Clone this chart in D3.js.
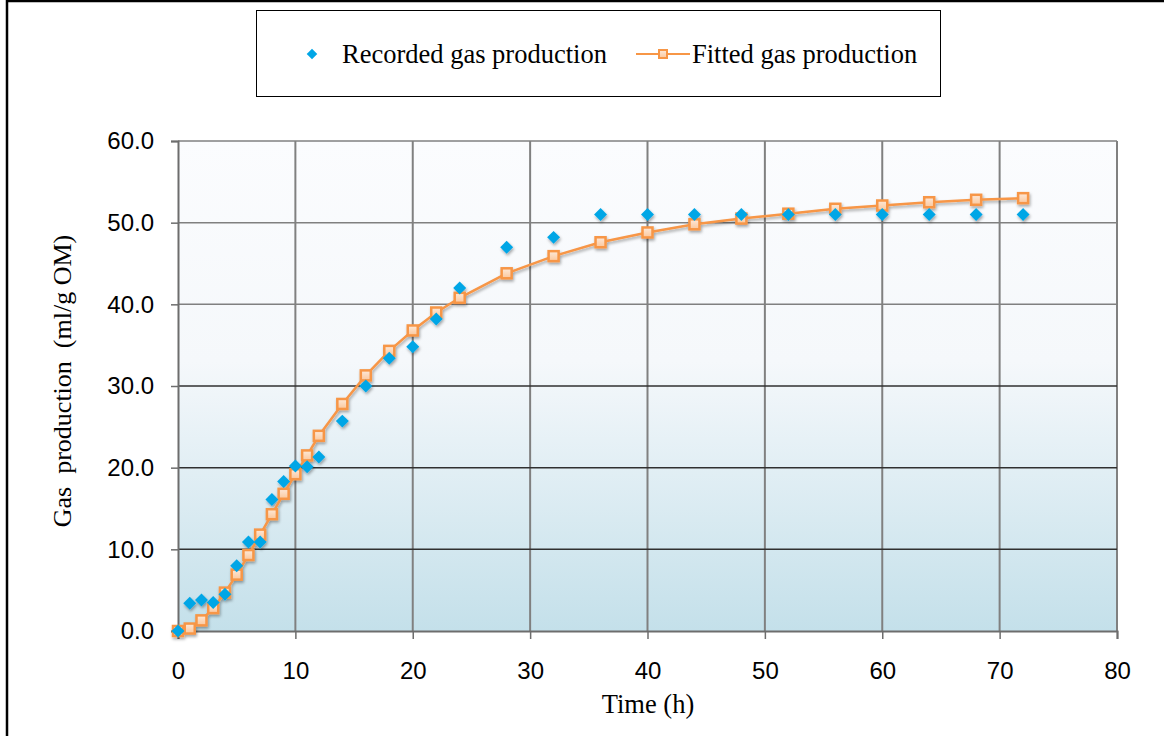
<!DOCTYPE html>
<html>
<head>
<meta charset="utf-8">
<script src="https://cdn.jsdelivr.net/npm/d3@7"></script>
<style>
  body { margin: 0; background: #fff; }
  svg { display: block; }
</style>
</head>
<body>
<div id="chart"></div>
<script>
const hours = [0, 1, 2, 3, 4, 5, 6, 7, 8, 9, 10, 11, 12, 14, 16, 18, 20, 22, 24, 28, 32, 36, 40, 44, 48, 52, 56, 60, 64, 68, 72];
const recorded = [0, 3.4, 3.8, 3.5, 4.5, 8.0, 10.9, 10.9, 16.1, 18.3, 20.2, 20.1, 21.3, 25.7, 30.0, 33.4, 34.8, 38.2, 42.0, 47.0, 48.2, 51.0, 51.0, 51.0, 51.0, 51.0, 51.0, 51.0, 51.0, 51.0, 51.0];
const fitted = [0, 0.3, 1.3, 2.8, 4.7, 6.9, 9.3, 11.8, 14.3, 16.8, 19.2, 21.5, 23.9, 27.8, 31.3, 34.3, 36.8, 39.0, 40.8, 43.8, 45.9, 47.6, 48.8, 49.8, 50.5, 51.1, 51.7, 52.1, 52.5, 52.8, 53.0];
const xTicks = [0, 10, 20, 30, 40, 50, 60, 70, 80];
const yTicks = [0, 10, 20, 30, 40, 50, 60];
const seriesNames = ["Recorded gas production", "Fitted gas production"];

const W = 1164, H = 736;
const margin = { top: 141, left: 178, right: 47, bottom: 105 };
const width = W - margin.left - margin.right;
const height = H - margin.top - margin.bottom;

const blue = "#00a6e6";
const orange = "#f79646";
const serif = "'Liberation Serif', 'Times New Roman', serif";

const svg = d3.select("#chart").append("svg").attr("width", W).attr("height", H);

const defs = svg.append("defs");
const grad = defs.append("linearGradient")
  .attr("id", "bg").attr("x1", 0).attr("y1", 0).attr("x2", 0).attr("y2", 1);
grad.append("stop").attr("offset", "0%").attr("stop-color", "#fbfcfe");
grad.append("stop").attr("offset", "45%").attr("stop-color", "#f5f8fb");
grad.append("stop").attr("offset", "100%").attr("stop-color", "#c4e0ea");

const sqGrad = defs.append("linearGradient")
  .attr("id", "sq").attr("x1", 0).attr("y1", 0).attr("x2", 0).attr("y2", 1);
sqGrad.append("stop").attr("offset", "0%").attr("stop-color", "#fde9d9");
sqGrad.append("stop").attr("offset", "100%").attr("stop-color", "#fbc79c");

const shadow = defs.append("filter").attr("id", "shadow")
  .attr("x", "-50%").attr("y", "-50%").attr("width", "200%").attr("height", "200%");
shadow.append("feDropShadow").attr("dx", 1).attr("dy", 2).attr("stdDeviation", 1.6)
  .attr("flood-color", "#000").attr("flood-opacity", 0.35);

// outer frame
svg.append("rect").attr("x", 7).attr("y", 1).attr("width", W + 20).attr("height", H + 20)
  .attr("fill", "none").attr("stroke", "#000").attr("stroke-width", 2.5);

const g = svg.append("g").attr("transform", `translate(${margin.left},${margin.top})`);

const x = d3.scaleLinear().domain([0, 80]).range([0, width]);
const y = d3.scaleLinear().domain([0, 60]).range([height, 0]);

g.append("rect").attr("width", width).attr("height", height).attr("fill", "url(#bg)");

// grid
g.selectAll(".vgrid").data(xTicks.slice(1)).enter().append("line")
  .attr("x1", d => x(d)).attr("x2", d => x(d))
  .attr("y1", 0).attr("y2", height)
  .attr("stroke", "#808080").attr("stroke-width", 2);
g.selectAll(".hgrid").data(yTicks.slice(1)).enter().append("line")
  .attr("x1", 0).attr("x2", width)
  .attr("y1", d => y(d)).attr("y2", d => y(d))
  .attr("stroke", d => d <= 30 ? "#303030" : "#808080").attr("stroke-width", 1.5);

const xAxis = d3.axisBottom(x).tickValues(xTicks).tickSize(8).tickPadding(23).tickFormat(d3.format("d"));
const yAxis = d3.axisLeft(y).tickValues(yTicks).tickSize(7).tickPadding(17).tickFormat(d3.format(".1f"));

const gx = g.append("g").attr("transform", `translate(0,${height})`).call(xAxis);
const gy = g.append("g").call(yAxis);
[gx, gy].forEach(a => {
  a.select(".domain").attr("stroke", "#6d6d6d").attr("stroke-width", 2);
  a.selectAll(".tick line").attr("stroke", "#6d6d6d").attr("stroke-width", 1.5);
  a.selectAll("text").attr("fill", "#000")
    .style("font-family", "'Liberation Sans', Arial, sans-serif").style("font-size", "24px");
});

// axis titles
svg.append("text")
  .attr("transform", `translate(71,${margin.top + height / 2 - 5}) rotate(-90)`)
  .attr("text-anchor", "middle")
  .style("font-family", serif)
  .style("font-size", "26px").style("white-space", "pre")
  .text("Gas  production  (ml/g OM)");
svg.append("text")
  .attr("x", 648).attr("y", 713)
  .attr("text-anchor", "middle")
  .style("font-family", serif)
  .style("font-size", "26.5px")
  .text("Time (h)");

// fitted line + squares, recorded diamonds on top
const pts = hours.map((h, i) => ({ h, r: recorded[i], f: fitted[i] }));
const line = d3.line().x(d => x(d.h)).y(d => y(d.f));
const plot = g.append("g").attr("filter", "url(#shadow)");
plot.append("path").datum(pts).attr("d", line)
  .attr("fill", "none").attr("stroke", orange).attr("stroke-width", 2.5);

plot.selectAll(".fit").data(pts).enter().append("rect")
  .attr("x", d => x(d.h) - 5).attr("y", d => y(d.f) - 5)
  .attr("width", 10).attr("height", 10)
  .attr("fill", "url(#sq)").attr("stroke", orange).attr("stroke-width", 2.5);

const diamond = d3.symbol().type(d3.symbolSquare).size(84);
plot.selectAll(".rec").data(pts).enter().append("path")
  .attr("d", diamond)
  .attr("transform", d => `translate(${x(d.h)},${y(d.r)}) rotate(45)`)
  .attr("fill", blue);

// legend
const lg = svg.append("g");
lg.append("rect").attr("x", 256.5).attr("y", 10.5).attr("width", 684).attr("height", 86)
  .attr("fill", "#fff").attr("stroke", "#000").attr("stroke-width", 1);
lg.append("path").attr("d", d3.symbol().type(d3.symbolSquare).size(56))
  .attr("transform", "translate(312,54) rotate(45)").attr("fill", blue);
lg.append("line").attr("x1", 636).attr("x2", 690).attr("y1", 54).attr("y2", 54)
  .attr("stroke", orange).attr("stroke-width", 2);
lg.append("rect").attr("x", 659).attr("y", 50).attr("width", 8).attr("height", 8)
  .attr("fill", "url(#sq)").attr("stroke", orange).attr("stroke-width", 2);
lg.selectAll(".lt").data(seriesNames).enter().append("text")
  .attr("x", (d, i) => i === 0 ? 342 : 692).attr("y", 63)
  .style("font-family", serif)
  .style("font-size", "26.5px")
  .text(d => d);
</script>
</body>
</html>
